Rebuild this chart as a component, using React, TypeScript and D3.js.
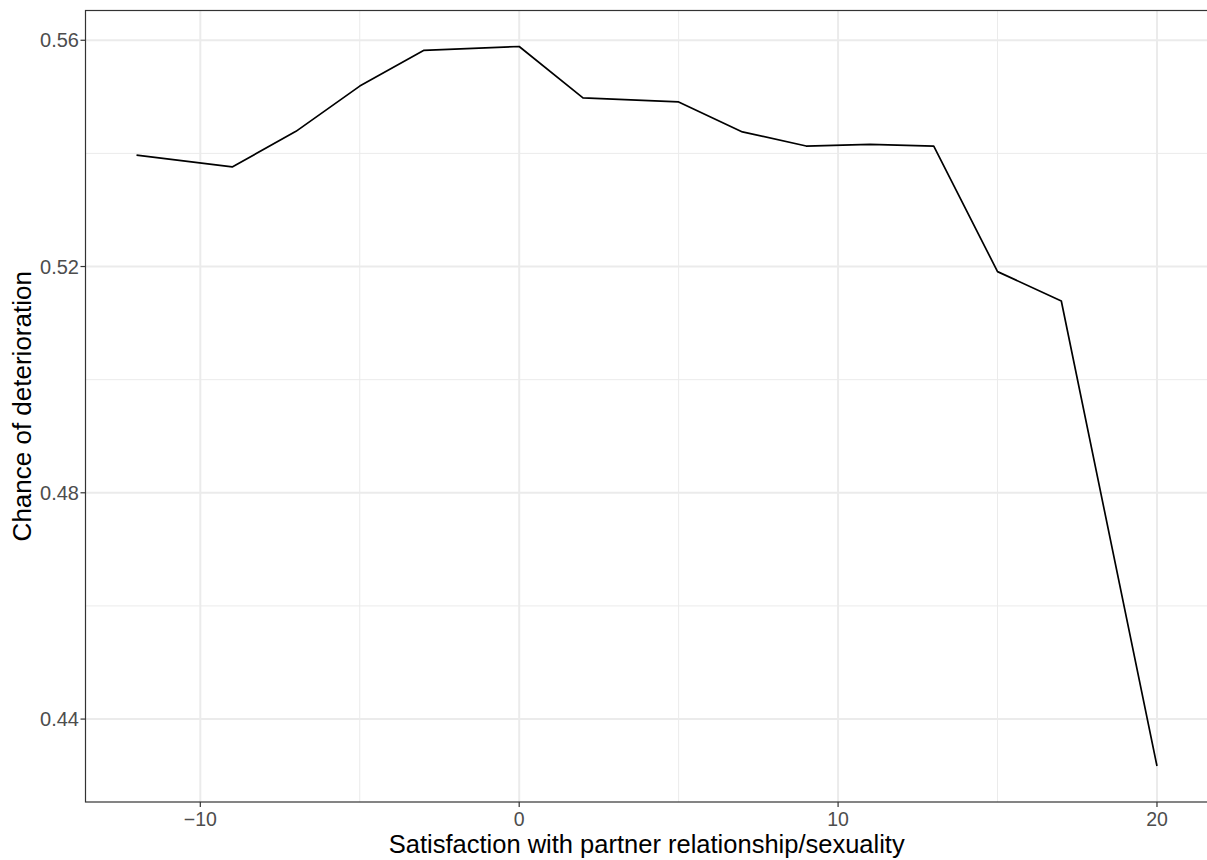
import React from "react";
import * as d3 from "d3";

const xValues = [-12, -9, -7, -5, -3, 0, 2, 5, 7, 9, 11, 13, 15, 17, 20];
const yValues = [0.5397, 0.5376, 0.5439, 0.5519, 0.5582, 0.5589, 0.5498, 0.5491, 0.5438, 0.5413, 0.5416, 0.5413, 0.5191, 0.5139, 0.4317];
const xTicks = [-10, 0, 10, 20];
const xMinor = [-5, 5, 15];
const yTicks = [0.44, 0.48, 0.52, 0.56];
const yMinor = [0.46, 0.5, 0.54];
const xTitle = "Satisfaction with partner relationship/sexuality";
const yTitle = "Chance of deterioration";

const W = 1207;
const H = 860;
const left = 85.5;
const right = 1208;
const top = 10.5;
const bottom = 802;

export default function App() {
  const xExt = d3.extent(xValues) as [number, number];
  const yExt = d3.extent(yValues) as [number, number];
  const xPad = (xExt[1] - xExt[0]) * 0.05;
  const yPad = (yExt[1] - yExt[0]) * 0.05;
  const x = d3.scaleLinear().domain([xExt[0] - xPad, xExt[1] + xPad]).range([left, right]);
  const y = d3.scaleLinear().domain([yExt[0] - yPad, yExt[1] + yPad]).range([bottom, top]);
  const line = d3
    .line<number>()
    .x((_, i) => x(xValues[i]))
    .y((d) => y(d));
  const font = "'Liberation Sans', Arial, Helvetica, sans-serif";
  const fmtX = (v: number) => (v < 0 ? "\u2212" + Math.abs(v) : String(v));
  return (
    <svg
      width={W}
      height={H}
      style={{ position: "absolute", left: 0, top: 0, background: "#fff" }}
      fontFamily={font}
    >
      <rect x={0} y={0} width={W} height={H} fill="#fff" />
      <g>
        {yMinor.map((v) => (
          <line key={"ym" + v} x1={left} x2={right} y1={y(v)} y2={y(v)} stroke="#EBEBEB" strokeWidth={1} />
        ))}
        {xMinor.map((v) => (
          <line key={"xm" + v} x1={x(v)} x2={x(v)} y1={top} y2={bottom} stroke="#EBEBEB" strokeWidth={1} />
        ))}
        {yTicks.map((v) => (
          <line key={"yg" + v} x1={left} x2={right} y1={y(v)} y2={y(v)} stroke="#EBEBEB" strokeWidth={2} />
        ))}
        {xTicks.map((v) => (
          <line key={"xg" + v} x1={x(v)} x2={x(v)} y1={top} y2={bottom} stroke="#EBEBEB" strokeWidth={2} />
        ))}
      </g>
      <path d={line(yValues) || ""} fill="none" stroke="#000" strokeWidth={1.7} strokeLinejoin="round" />
      <rect
        x={left}
        y={top}
        width={right - left}
        height={bottom - top}
        fill="none"
        stroke="#333333"
        strokeWidth={1.2}
      />
      {yTicks.map((v) => (
        <g key={"yt" + v}>
          <line x1={left - 5} x2={left} y1={y(v)} y2={y(v)} stroke="#333333" strokeWidth={1.2} />
          <text x={left - 6.5} y={y(v)} dy="0.36em" textAnchor="end" fontSize={20} fill="#4D4D4D">
            {v.toFixed(2)}
          </text>
        </g>
      ))}
      {xTicks.map((v) => (
        <g key={"xt" + v}>
          <line x1={x(v)} x2={x(v)} y1={bottom} y2={bottom + 5} stroke="#333333" strokeWidth={1.2} />
          <text x={x(v)} y={825.5} textAnchor="middle" fontSize={19.5} fill="#4D4D4D">
            {fmtX(v)}
          </text>
        </g>
      ))}
      <text x={(left + right) / 2} y={853} textAnchor="middle" fontSize={25.5} fill="#000">
        {xTitle}
      </text>
      <text
        transform={`translate(31,${(top + bottom) / 2}) rotate(-90)`}
        textAnchor="middle"
        fontSize={26}
        fill="#000"
      >
        {yTitle}
      </text>
    </svg>
  );
}
